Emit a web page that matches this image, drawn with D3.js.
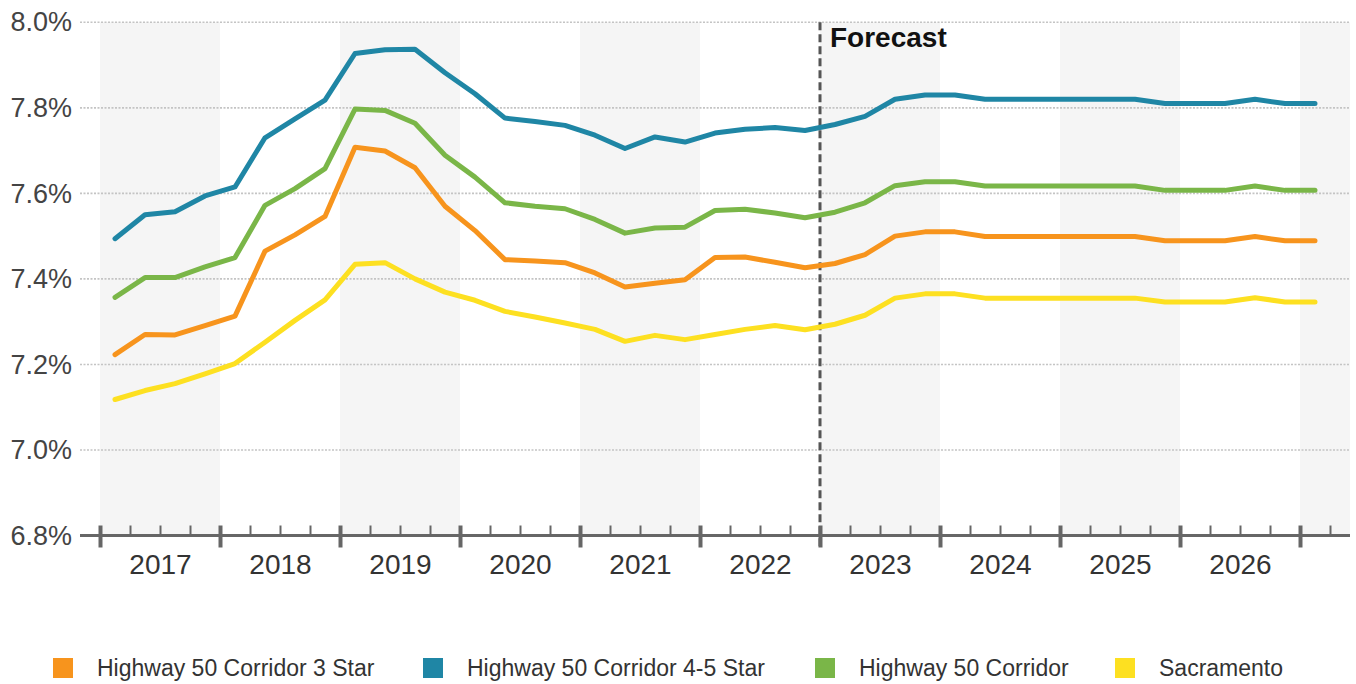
<!DOCTYPE html>
<html>
<head>
<meta charset="utf-8">
<script src="https://cdn.jsdelivr.net/npm/d3@7"></script>
<style>
  html, body { margin: 0; padding: 0; background: #fff; }
  svg { display: block; font-family: "Liberation Sans", Arial, sans-serif; }
</style>
</head>
<body>
<svg id="chart" width="1356" height="684"></svg>
<script>
// Quarterly periods, 2017 Q1 through 2027 Q1
const quarters = d3.range(41).map(i => 2017 + Math.floor(i / 4) + ((i % 4) + 0.5) / 4);

const years = d3.range(2017, 2027);
const yTicks = [6.8, 7.0, 7.2, 7.4, 7.6, 7.8, 8.0];
const forecastStart = 2023;

const seriesNames = ["Highway 50 Corridor 3 Star", "Highway 50 Corridor 4-5 Star", "Highway 50 Corridor", "Sacramento"];
const seriesColors = ["#F7941D", "#1F86A5", "#7AB648", "#FDE021"];

const star3 = [7.223, 7.270, 7.269, 7.291, 7.313, 7.465, 7.503, 7.546, 7.708, 7.699, 7.660, 7.570,
  7.513, 7.445, 7.442, 7.438, 7.414, 7.381, 7.390, 7.398, 7.450, 7.451, 7.439, 7.426,
  7.436, 7.457, 7.500, 7.510, 7.510, 7.499, 7.499, 7.499, 7.499, 7.499, 7.499, 7.489,
  7.489, 7.489, 7.499, 7.489, 7.489];

const star45 = [7.494, 7.550, 7.557, 7.594, 7.615, 7.730, 7.774, 7.818, 7.927, 7.936, 7.937, 7.882,
  7.833, 7.776, 7.768, 7.759, 7.736, 7.705, 7.732, 7.720, 7.741, 7.750, 7.754, 7.747,
  7.761, 7.780, 7.820, 7.830, 7.830, 7.820, 7.820, 7.820, 7.820, 7.820, 7.820, 7.810,
  7.810, 7.810, 7.820, 7.810, 7.810];

const corridor = [7.357, 7.403, 7.403, 7.428, 7.450, 7.572, 7.611, 7.658, 7.797, 7.794, 7.764, 7.689,
  7.638, 7.578, 7.570, 7.564, 7.539, 7.507, 7.519, 7.521, 7.560, 7.563, 7.554, 7.543,
  7.556, 7.578, 7.618, 7.627, 7.627, 7.617, 7.617, 7.617, 7.617, 7.617, 7.617, 7.607,
  7.607, 7.607, 7.617, 7.607, 7.607];

const sacramento = [7.118, 7.139, 7.155, 7.178, 7.202, 7.252, 7.303, 7.351, 7.434, 7.438, 7.400, 7.369,
  7.350, 7.324, 7.311, 7.297, 7.282, 7.254, 7.268, 7.258, 7.270, 7.282, 7.291, 7.281,
  7.294, 7.315, 7.355, 7.365, 7.365, 7.355, 7.355, 7.355, 7.355, 7.355, 7.355, 7.346,
  7.346, 7.346, 7.356, 7.346, 7.346];

const seriesValues = [star3, star45, corridor, sacramento];

// ---- layout ----
const svg = d3.select("#chart");
const plotLeft = 80, plotRight = 1350, plotTop = 22.3, plotBottom = 535.5;

const x = d3.scaleLinear()
  .domain([2017 - 20 / 120, 2017 + 1250 / 120])
  .range([plotLeft, plotRight]);
const y = d3.scaleLinear().domain([6.8, 8.0]).range([plotBottom, plotTop]);

// alternating year bands
const bandYears = d3.range(2017, 2028, 2);
svg.append("g").selectAll("rect")
  .data(bandYears)
  .join("rect")
  .attr("x", d => x(d))
  .attr("y", plotTop)
  .attr("width", d => Math.min(x(d + 1), plotRight) - x(d))
  .attr("height", plotBottom - plotTop)
  .attr("fill", "#f5f5f5");

// dotted horizontal grid
svg.append("g").selectAll("line")
  .data(yTicks.filter(v => v > 6.8))
  .join("line")
  .attr("x1", plotLeft).attr("x2", plotRight)
  .attr("y1", d => y(d)).attr("y2", d => y(d))
  .attr("stroke", "#c4c4c4")
  .attr("stroke-width", 1.6)
  .attr("stroke-dasharray", "2,1.5");

// y labels
const yAxis = svg.append("g")
  .attr("transform", `translate(${plotLeft},0)`)
  .call(d3.axisLeft(y).tickValues(yTicks).tickFormat(d => d3.format(".1f")(d) + "%").tickSize(0).tickPadding(8));
yAxis.select(".domain").remove();
yAxis.selectAll("text")
  .attr("font-size", 27)
  .attr("font-family", "Liberation Sans, Arial, sans-serif")
  .attr("fill", "#444");

// forecast divider
svg.append("line")
  .attr("x1", x(forecastStart)).attr("x2", x(forecastStart))
  .attr("y1", plotTop).attr("y2", plotBottom + 12)
  .attr("stroke", "#555")
  .attr("stroke-width", 3)
  .attr("stroke-dasharray", "8,4");

svg.append("text")
  .attr("x", x(forecastStart) + 10)
  .attr("y", 47)
  .attr("font-size", 28)
  .attr("font-weight", "bold")
  .attr("fill", "#111")
  .text("Forecast");

// lines
const line = d3.line()
  .x((d, i) => x(quarters[i]))
  .y(d => y(d));

const drawOrder = [3, 0, 2, 1];
svg.append("g").selectAll("path")
  .data(drawOrder)
  .join("path")
  .attr("d", k => line(seriesValues[k]))
  .attr("fill", "none")
  .attr("stroke", k => seriesColors[k])
  .attr("stroke-width", 5)
  .attr("stroke-linejoin", "round")
  .attr("stroke-linecap", "round");

// x axis: baseline, quarter ticks, year ticks, year labels
const axisG = svg.append("g").attr("transform", `translate(0,${plotBottom})`);

const minorVals = d3.range(2017, 2027.5, 0.25).filter(v => v % 1 !== 0);
const minorAxis = axisG.append("g")
  .call(d3.axisBottom(x).tickValues(minorVals).tickSize(-10).tickFormat(""));
minorAxis.select(".domain").remove();
minorAxis.selectAll(".tick line").attr("stroke", "#666").attr("stroke-width", 2);

axisG.append("line")
  .attr("x1", plotLeft).attr("x2", plotRight)
  .attr("stroke", "#666").attr("stroke-width", 3);

const majorAxis = axisG.append("g")
  .call(d3.axisBottom(x).tickValues(d3.range(2017, 2028)).tickSize(12).tickFormat(""));
majorAxis.select(".domain").remove();
majorAxis.selectAll(".tick line")
  .attr("y1", -10)
  .attr("stroke", "#666").attr("stroke-width", 4);

const labelAxis = axisG.append("g")
  .call(d3.axisBottom(x).tickValues(years.map(v => v + 0.5)).tickSize(0).tickPadding(19)
    .tickFormat(d => String(Math.floor(d))));
labelAxis.select(".domain").remove();
labelAxis.selectAll("text")
  .attr("font-size", 28)
  .attr("font-family", "Liberation Sans, Arial, sans-serif")
  .attr("fill", "#333");

// legend
const legendX = [53, 423, 815, 1115];
const legend = svg.append("g").selectAll("g")
  .data(seriesNames)
  .join("g")
  .attr("transform", (d, i) => `translate(${legendX[i]},658)`);
legend.append("rect")
  .attr("width", 20).attr("height", 20)
  .attr("fill", (d, i) => seriesColors[i]);
legend.append("text")
  .attr("x", 44).attr("y", 10)
  .attr("dy", "0.36em")
  .attr("font-size", 23)
  .attr("fill", "#333")
  .text(d => d);
</script>
</body>
</html>
